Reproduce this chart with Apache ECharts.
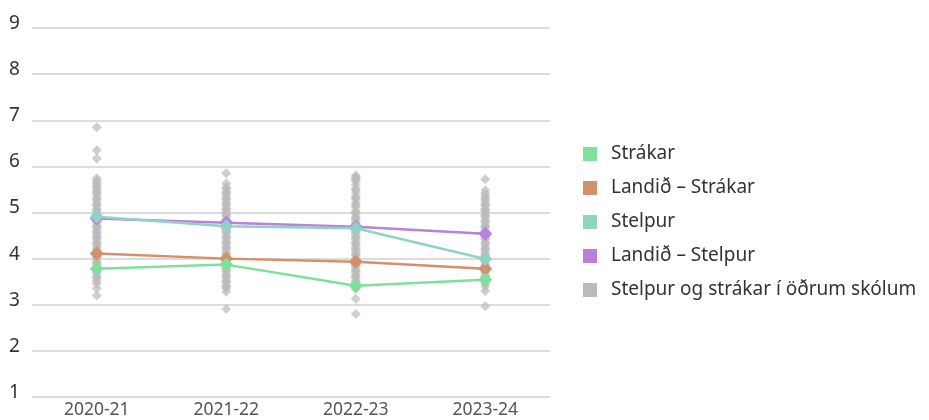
<!DOCTYPE html>
<html>
<head>
<meta charset="utf-8">
<script src="https://cdn.jsdelivr.net/npm/echarts@6/dist/echarts.min.js"></script>
<style>
  html, body { margin: 0; padding: 0; background: #fff; }
  #chart { width: 929px; height: 420px; }
</style>
</head>
<body>
<div id="chart"></div>
<script>
const years = ['2020-21', '2021-22', '2022-23', '2023-24']

const strakar = [3.78, 3.87, 3.41, 3.54]
const landidStrakar = [4.11, 4.0, 3.93, 3.78]
const stelpur = [4.91, 4.7, 4.66, 3.99]
const landidStelpur = [4.87, 4.78, 4.69, 4.54]

// other schools, one list per year
const others2021 = [6.85, 6.35, 6.17, 5.74, 5.7, 5.66, 5.62, 5.58, 5.55, 5.52, 5.46, 5.43, 5.4, 5.33, 5.3,
  5.27, 5.2, 5.17, 5.14, 5.08, 5.05, 5.02, 4.96, 4.93, 4.9, 4.84, 4.81, 4.78, 4.72, 4.69, 4.66, 4.6, 4.57,
  4.54, 4.48, 4.45, 4.42, 4.36, 4.33, 4.3, 4.24, 4.21, 4.18, 4.12, 4.06, 4.03, 4.0, 3.94, 3.91, 3.88, 3.82,
  3.79, 3.76, 3.7, 3.64, 3.6, 3.58, 3.52, 3.46, 3.36, 3.2]
const others2122 = [5.85, 5.63, 5.55, 5.52, 5.46, 5.43, 5.4, 5.34, 5.31, 5.28, 5.22, 5.19, 5.16, 5.1, 5.07,
  5.04, 4.98, 4.95, 4.92, 4.86, 4.83, 4.8, 4.74, 4.71, 4.68, 4.62, 4.59, 4.56, 4.5, 4.47, 4.44, 4.38, 4.35,
  4.32, 4.26, 4.23, 4.2, 4.14, 4.11, 4.08, 4.02, 3.99, 3.96, 3.9, 3.87, 3.84, 3.78, 3.75, 3.72, 3.66, 3.63,
  3.6, 3.54, 3.51, 3.48, 3.42, 3.39, 3.36, 3.28, 2.91]
const others2223 = [5.8, 5.77, 5.74, 5.71, 5.68, 5.6, 5.52, 5.48, 5.44, 5.36, 5.32, 5.28, 5.2, 5.16, 5.12,
  5.04, 5.0, 4.96, 4.9, 4.87, 4.84, 4.78, 4.75, 4.72, 4.6, 4.57, 4.54, 4.48, 4.45, 4.42, 4.36, 4.33, 4.3,
  4.24, 4.21, 4.18, 4.12, 4.09, 4.06, 4.0, 3.97, 3.94, 3.88, 3.85, 3.82, 3.76, 3.73, 3.7, 3.64, 3.61, 3.58,
  3.52, 3.49, 3.46, 3.4, 3.37, 3.34, 3.13, 2.8]
const others2324 = [5.72, 5.48, 5.42, 5.38, 5.32, 5.29, 5.26, 5.2, 5.17, 5.14, 5.08, 5.05, 5.02, 4.96, 4.93,
  4.9, 4.84, 4.81, 4.78, 4.72, 4.69, 4.66, 4.6, 4.57, 4.54, 4.48, 4.45, 4.42, 4.36, 4.33, 4.3, 4.24, 4.21,
  4.18, 4.12, 4.09, 4.06, 4.0, 3.97, 3.94, 3.88, 3.85, 3.82, 3.76, 3.73, 3.7, 3.64, 3.61, 3.58, 3.52, 3.46,
  3.4, 3.3, 2.97]

const yTicks = [1, 2, 3, 4, 5, 6, 7, 8, 9]

const otherLists = [others2021, others2122, others2223, others2324]
const otherPoints = []
otherLists.forEach((list, i) => {
  list.forEach((v) => otherPoints.push([years[i], v]))
})

const font = '"Noto Sans", sans-serif'
const otherName = 'Stelpur og strákar í öðrum skólum'

function lineSeries(name, data, color, z) {
  return {
    name,
    type: 'line',
    data,
    z,
    symbol: 'diamond',
    symbolSize: 14,
    showSymbol: true,
    lineStyle: { color, width: 2.5 },
    itemStyle: { color },
  }
}

const chart = echarts.init(document.getElementById('chart'))

chart.setOption({
  animation: false,
  textStyle: { fontFamily: font },
  grid: { left: 32, right: 379, top: 28, bottom: 23 },
  legend: {
    orient: 'vertical',
    left: 583,
    top: 144,
    padding: 0,
    itemWidth: 14,
    itemHeight: 14,
    itemGap: 14,
    icon: 'rect',
    textStyle: { fontSize: 19, color: '#333', fontFamily: font, lineHeight: 20, padding: [0, 0, 0, 9] },
    data: [
      'Strákar', 'Landið – Strákar', 'Stelpur', 'Landið – Stelpur',
      { name: otherName, itemStyle: { color: '#bbbbbb', opacity: 1 } },
    ],
  },
  xAxis: {
    type: 'category',
    data: years,
    boundaryGap: true,
    axisLine: { show: false },
    axisTick: { show: false },
    axisLabel: { color: '#555', fontSize: 17.5, margin: 4 },
  },
  yAxis: {
    type: 'value',
    min: yTicks[0],
    max: yTicks[yTicks.length - 1],
    interval: 1,
    axisLine: { show: false },
    axisTick: { show: false },
    axisLabel: {
      color: '#333', fontSize: 19, margin: 23, align: 'left', verticalAlign: 'bottom',
      lineHeight: 19, padding: [0, 0, -5, 0],
    },
    splitLine: { lineStyle: { color: '#dcdcdc', width: 2 } },
  },
  series: [
    {
      name: otherName,
      type: 'scatter',
      data: otherPoints,
      symbol: 'diamond',
      symbolSize: 10,
      z: 1,
      itemStyle: { color: '#bbbbbb', opacity: 0.7 },
    },
    lineSeries('Landið – Strákar', landidStrakar, '#d4906a', 3),
    lineSeries('Strákar', strakar, '#7fe09a', 4),
    lineSeries('Landið – Stelpur', landidStelpur, '#b980dc', 5),
    lineSeries('Stelpur', stelpur, '#8fd3c6', 6),
  ],
})
</script>
</body>
</html>
